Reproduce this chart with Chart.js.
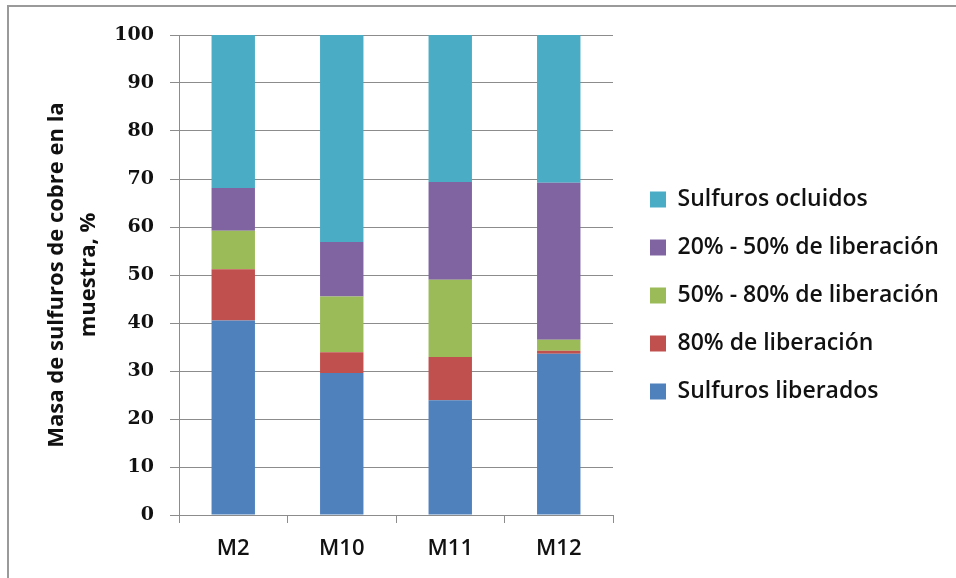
<!DOCTYPE html>
<html>
<head>
<meta charset="utf-8">
<script src="https://cdn.jsdelivr.net/npm/chart.js@4/dist/chart.umd.min.js"></script>
<style>
  html, body { margin: 0; padding: 0; background: #ffffff; }
  #wrap { width: 956px; height: 578px; position: relative; }
</style>
</head>
<body>
<div id="wrap"><canvas id="grafico" width="956" height="578"></canvas></div>
<script>
// Muestras y distribución (%) de la masa de sulfuros de cobre por grado de liberación
const muestras = ['M2', 'M10', 'M11', 'M12'];
const sulfurosLiberados = [40.5, 29.6, 23.9, 33.6];
const liberacion80 = [10.7, 4.3, 9.0, 0.6];
const liberacion50a80 = [8.0, 11.6, 16.1, 2.3];
const liberacion20a50 = [8.9, 11.4, 20.4, 32.7];
const sulfurosOcluidos = [31.9, 43.1, 30.6, 30.8];
const marcasY = [0, 10, 20, 30, 40, 50, 60, 70, 80, 90, 100];

const GRIS = '#8c8c8c';
const FUENTE = '"Open Sans", Lato, sans-serif';

// Marco exterior del gráfico (solo borde superior e izquierdo visibles)
const marco = {
  id: 'marco',
  beforeDraw(chart) {
    const ctx = chart.ctx;
    ctx.save();
    ctx.strokeStyle = '#9a9a9a';
    ctx.lineWidth = 2;
    ctx.beginPath();
    ctx.moveTo(8, 578);
    ctx.lineTo(8, 6);
    ctx.lineTo(956, 6);
    ctx.stroke();
    ctx.restore();
  }
};

// Ancho fijo de la leyenda y su posición a la derecha del área de trazado
const leyendaPos = {
  id: 'leyendaPos',
  beforeLayout(chart) {
    const lg = chart.legend;
    if (lg && !lg.__anchoFijo) {
      const fitOriginal = lg.fit;
      lg.fit = function () {
        fitOriginal.call(this);
        this.width = 343;
      };
      lg.__anchoFijo = true;
    }
  },
  afterLayout(chart) {
    const lg = chart.legend;
    if (!lg) return;
    lg.left = 625;
    lg.right = 956;
    lg.top = 13;
    lg.bottom = 578;
  }
};

new Chart(document.getElementById('grafico'), {
  type: 'bar',
  data: {
    labels: muestras,
    datasets: [
      { label: 'Sulfuros liberados', data: sulfurosLiberados, backgroundColor: '#4F81BD' },
      { label: '80% de liberación', data: liberacion80, backgroundColor: '#C0504D' },
      { label: '50% - 80% de liberación', data: liberacion50a80, backgroundColor: '#9BBB59' },
      { label: '20% - 50% de liberación', data: liberacion20a50, backgroundColor: '#8064A2' },
      { label: 'Sulfuros ocluidos', data: sulfurosOcluidos, backgroundColor: '#4BACC6' }
    ]
  },
  options: {
    responsive: false,
    animation: false,
    devicePixelRatio: 1,
    datasets: {
      bar: { categoryPercentage: 1.0, barPercentage: 0.4, borderWidth: 0 }
    },
    layout: { padding: { left: 10, top: 35, right: 0, bottom: 0 } },
    plugins: {
      tooltip: { enabled: false },
      legend: {
        position: 'right',
        reverse: true,
        labels: {
          boxWidth: 16,
          boxHeight: 16,
          padding: 25,
          color: '#111111',
          font: { family: FUENTE, size: 23, weight: '600' }
        }
      }
    },
    scales: {
      x: {
        stacked: true,
        offset: true,
        grid: { drawOnChartArea: false, drawTicks: true, tickLength: 8, color: GRIS, offset: true },
        border: { color: GRIS, width: 1 },
        ticks: { color: '#111111', padding: 13, font: { family: FUENTE, size: 22, weight: '600' } },
        afterFit(scale) { scale.height = 578 - 515; }
      },
      y: {
        stacked: true,
        min: 0,
        max: 100,
        afterBuildTicks(scale) { scale.ticks = marcasY.map(v => ({ value: v })); },
        grid: { color: GRIS, tickLength: 9, drawTicks: true },
        border: { color: GRIS, width: 1 },
        ticks: {
          color: '#111111',
          padding: 16,
          font: { family: '"DejaVu Serif", serif', size: 19, weight: 'bold' }
        },
        title: {
          display: true,
          text: ['Masa de sulfuros de cobre en la', 'muestra, %'],
          color: '#111111',
          padding: { top: 31, bottom: 0 },
          font: { family: FUENTE, size: 22, weight: 'bold', lineHeight: '32px' }
        },
        afterFit(scale) { scale.width = 179 - 10; }
      }
    }
  },
  plugins: [marco, leyendaPos]
});
</script>
</body>
</html>
